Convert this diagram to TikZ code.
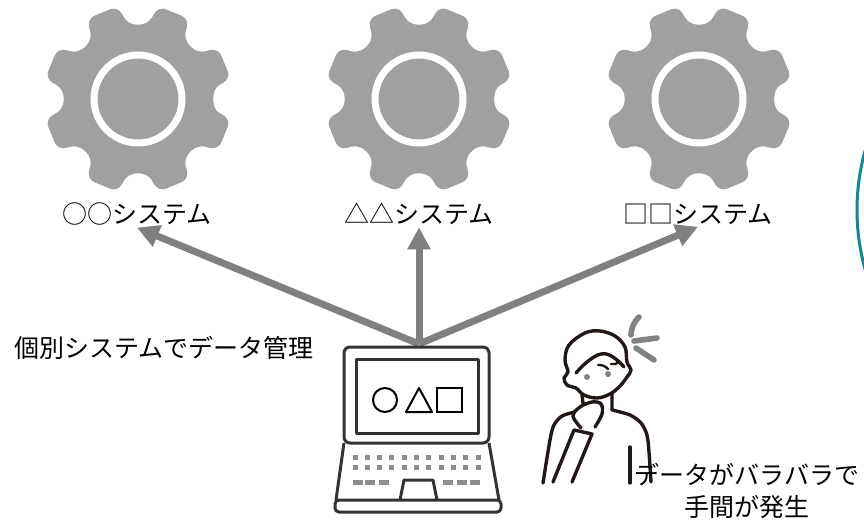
\documentclass[tikz,border=0pt]{standalone}
\usepackage{fontspec}
\setmainfont{Noto Sans CJK JP}
\usetikzlibrary{arrows.meta, positioning}
\definecolor{geargray}{RGB}{160,160,160}
\definecolor{arrowgray}{RGB}{128,128,128}
\definecolor{pcdark}{RGB}{51,51,51}
\definecolor{keygray}{RGB}{140,140,140}
\definecolor{inkdark}{RGB}{35,24,21}
\definecolor{sweatgray}{RGB}{130,130,130}
\definecolor{ringteal}{RGB}{20,135,150}
\tikzset{
  syslabel/.style={font=\fontsize{12.5}{16}\selectfont, inner sep=1pt},
  arrow/.style={-{Triangle[length=11pt,width=11pt]}, line width=3.5pt, color=arrowgray},
  pcline/.style={draw=pcdark, line width=1.5pt, line join=round},
  key/.style={fill=keygray},
  ink/.style={draw=inkdark, line width=1.7pt, line cap=round, line join=round},
  sweat/.style={draw=sweatgray, line width=2.8pt, line cap=round},
  gear/.pic={
    \fill[geargray, rounded corners=4pt] (0:76)
      \foreach \a in {22.5,67.5,...,337.5}{
        -- ({\a-15}:75) -- ({\a-10}:95) -- ({\a+10}:95) -- ({\a+15}:75)
      } -- cycle;
    \draw[white, line width=3.5pt] (0,0) circle (44);
  }
}

\begin{document}
\begin{tikzpicture}[x=0.5pt, y=-0.5pt]
  \useasboundingbox (0,0) rectangle (864,530);

  % gears and their labels
  \foreach \gx in {138,419,699} \pic at (\gx,99) {gear};
  \node[syslabel] (sys1) at (137,214) {○○システム};
  \node[syslabel] (sys2) at (419,214) {△△システム};
  \node[syslabel] (sys3) at (698,214) {□□システム};

  % arrows from the laptop
  \coordinate (pctop) at (419,344);
  \foreach \s in {sys1,sys2,sys3} \draw[arrow] (pctop) -- (\s.south);

  \node[syslabel, anchor=west] (note) at (12,348) {個別システムでデータ管理};

  % laptop
  \draw[pcline, rounded corners=3pt] (344,347) rectangle (489,443);
  \draw[pcline] (356,359) rectangle (478,433);
  \draw[pcline] (344,443) -- (336,500) (489,443) -- (499,500);
  \draw[pcline, rounded corners=2pt] (335,500) rectangle (501,512);
  \foreach \i in {0,...,10} {
    \fill[key] ({355+12.3*\i},457) +(-2.5,-2.5) rectangle +(2.5,2.5);
    \fill[key] ({355+12.3*\i},467) +(-2.5,-2.5) rectangle +(2.5,2.5);
  }
  \foreach \kx in {358,370,384,448,462,475}
    \fill[key] (\kx,482) +(-5,-2.5) rectangle +(5,2.5);
  \draw[pcline] (400,500) -- (404,480) -- (433,480) -- (437,500);
  % screen symbols
  \draw[black, line width=1pt] (385,400) circle (12);
  \draw[black, line width=1pt, line join=round] (406,412) -- (419,388) -- (432,412) -- cycle;
  \draw[black, line width=1pt] (437,388) rectangle (462,412);

  % worried person
  \draw[ink] plot[smooth cycle, tension=0.6] coordinates {(569,345)(585,333)(600,331)(615,336)(625,347)(627,362)(631,370)(627,377)(620,386)(610,394)(597,398)(584,395)(576,388)(567,385)(564,378)(568,372)(565,360)};
  \draw[ink] plot[smooth, tension=0.7] coordinates {(576,373)(587,362)(601,354)(613,357)(624,367)};
  \draw[ink, line width=1.2pt] (598,365) to[bend left=25] (608,369);
  \draw[ink, line width=1.2pt] (611,364) to[bend right=25] (619,362);
  \fill[sweatgray] (587,377) circle (3) (608,374) circle (3);
  \draw[ink] (582,395) -- (583,403) (612,393) -- (612,410);
  \draw[ink] plot[smooth, tension=0.6] coordinates {(581,428)(573,416)(580,407)(592,402)(601,404)(602,414)(595,427)};
  \draw[ink] plot[smooth] coordinates {(575,412)(562,416)(554,425)(550,440)(543,483)};
  \draw[ink] plot[smooth] coordinates {(612,410)(630,415)(641,423)(647,435)(649,452)(651,482)};
  \draw[ink] (553,482) -- (574,430) -- (592,434) -- (572,482);
  \draw[ink] (630,447) -- (630,483);
  \draw[sweat] (631,335) to[bend left=20] (639,317);
  \draw[sweat] (634,341) -- (657,338);
  \draw[sweat] (636,348) -- (654,360);

  \node[syslabel, align=center] (trouble) at (747,491) {データがバラバラで\\手間が発生};

  % teal ring at the right edge
  \begin{scope}
    \clip (0,0) rectangle (864,530);
    \draw[ringteal, line width=1.5pt] (1077,210) circle (220);
  \end{scope}
\end{tikzpicture}
\end{document}
